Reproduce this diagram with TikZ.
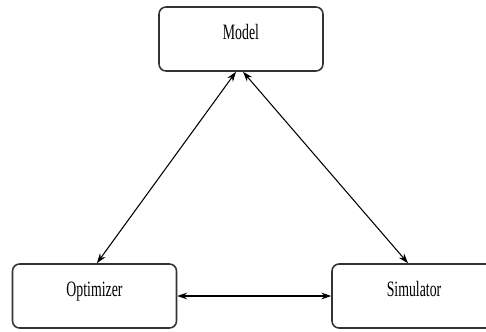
\documentclass[tikz,border=0pt]{standalone}
\usepackage{fontspec}
\newfontfamily\boxfont[FakeStretch=0.63]{Liberation Serif}
\usetikzlibrary{positioning, arrows.meta}

\begin{document}
\begin{tikzpicture}[
  block/.style={draw=black!80, line width=1.1pt, rounded corners=5pt,
    minimum width=4.1cm, minimum height=1.6cm, inner sep=0pt,
    font=\boxfont\fontsize{15.6}{18}\selectfont,
    text height=1.2ex, text depth=1.2ex},
  link/.style={{Stealth[length=0.25cm, width=0.17cm]}-{Stealth[length=0.25cm, width=0.17cm]},
    line width=0.75pt},
]
  \useasboundingbox (0,0) rectangle (12.15,8.275);
  \node[block] (model) at (6.025,7.3) {Model};
  \node[block] (optimizer) at (2.3625,0.875) {Optimizer};
  \node[block] (simulator) at (10.35,0.875) {Simulator};
  % links between the three parts
  \draw[link] ([xshift=-0.125cm]model.south) -- ([xshift=0.06cm]optimizer.north);
  \draw[link] ([xshift=0.05cm]model.south) -- ([xshift=-0.15cm]simulator.north);
  \draw[link] (optimizer.east) -- (simulator.west);
\end{tikzpicture}
\end{document}
